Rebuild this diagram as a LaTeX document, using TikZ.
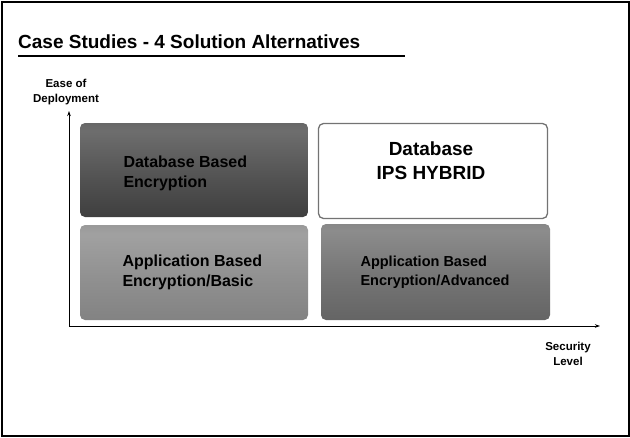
\documentclass[tikz,border=0pt]{standalone}
\usepackage{fontspec}
\setmainfont{Liberation Sans}
\usetikzlibrary{arrows.meta}

% vertical shadings: 0bp is the bottom edge, 100bp the top edge
\pgfdeclareverticalshading{darkpanel}{100bp}{
  color(0bp)=(black!83); color(15bp)=(black!79); color(45bp)=(black!68);
  color(71bp)=(black!57); color(88bp)=(black!68); color(100bp)=(black!78)}
\pgfdeclareverticalshading{lightpanel}{100bp}{
  color(0bp)=(black!53); color(20bp)=(black!50); color(45bp)=(black!44);
  color(70bp)=(black!37); color(88bp)=(black!47); color(100bp)=(black!57)}
\pgfdeclareverticalshading{midpanel}{100bp}{
  color(0bp)=(black!66); color(20bp)=(black!62); color(45bp)=(black!55);
  color(72bp)=(black!45); color(88bp)=(black!57); color(100bp)=(black!68)}

\begin{document}
\begin{tikzpicture}[x=1pt,y=-1pt,
  panel/.style={rounded corners=5pt},
  paneltext/.style={font=\bfseries, align=left, text=black},
  axislabel/.style={font=\bfseries\fontsize{11.5}{14.5}\selectfont, align=center},
  axis/.style={line width=0.9pt, -{Stealth[length=5pt,width=3.5pt]}}]

  \useasboundingbox (0,0) rectangle (630,437);
  % page frame
  \draw[line width=2pt] (1.5,1.5) rectangle (628.5,435.5);

  % heading with rule beneath
  \node[anchor=base west, font=\bfseries\fontsize{19}{22}\selectfont, inner sep=0pt]
    (title) at (18,48.5) {Case Studies - 4 Solution Alternatives};
  \coordinate (ruleL) at (18,56);
  \coordinate (ruleR) at (405,56);
  \draw[line width=2.2pt] (ruleL) -- (ruleR);

  % quadrant panels
  \shade[panel, shading=darkpanel] (80,123) rectangle (308,217);
  \node[paneltext, anchor=west, font=\bfseries\fontsize{16}{20}\selectfont]
    (dbenc) at (120,173) {Database Based\\Encryption};

  \draw[panel, draw=black!55, line width=1.3pt, fill=white] (318.5,123.5) rectangle (547.5,218.5);
  \node[align=center, font=\bfseries\fontsize{19}{24}\selectfont]
    (hybrid) at (431,161) {Database\\IPS HYBRID};

  \shade[panel, shading=lightpanel] (80,225) rectangle (308,320);
  \node[paneltext, anchor=west, font=\bfseries\fontsize{16}{20}\selectfont]
    (appbasic) at (119,272) {Application Based\\Encryption/Basic};

  \shade[panel, shading=midpanel] (321,224) rectangle (550,320);
  \node[paneltext, anchor=west, font=\bfseries\fontsize{14.5}{19}\selectfont]
    (appadv) at (357,272) {Application Based\\Encryption/Advanced};

  % axes
  \coordinate (origin) at (69,326);
  \coordinate (ytip) at (69,111);
  \coordinate (xtip) at (600,326);
  \draw[axis] (origin) -- (ytip);
  \draw[axis] (origin) -- (xtip);

  \node[axislabel] (ylab) at (66,92) {Ease of\\Deployment};
  \node[axislabel] (xlab) at (568,354) {Security\\Level};
\end{tikzpicture}
\end{document}
